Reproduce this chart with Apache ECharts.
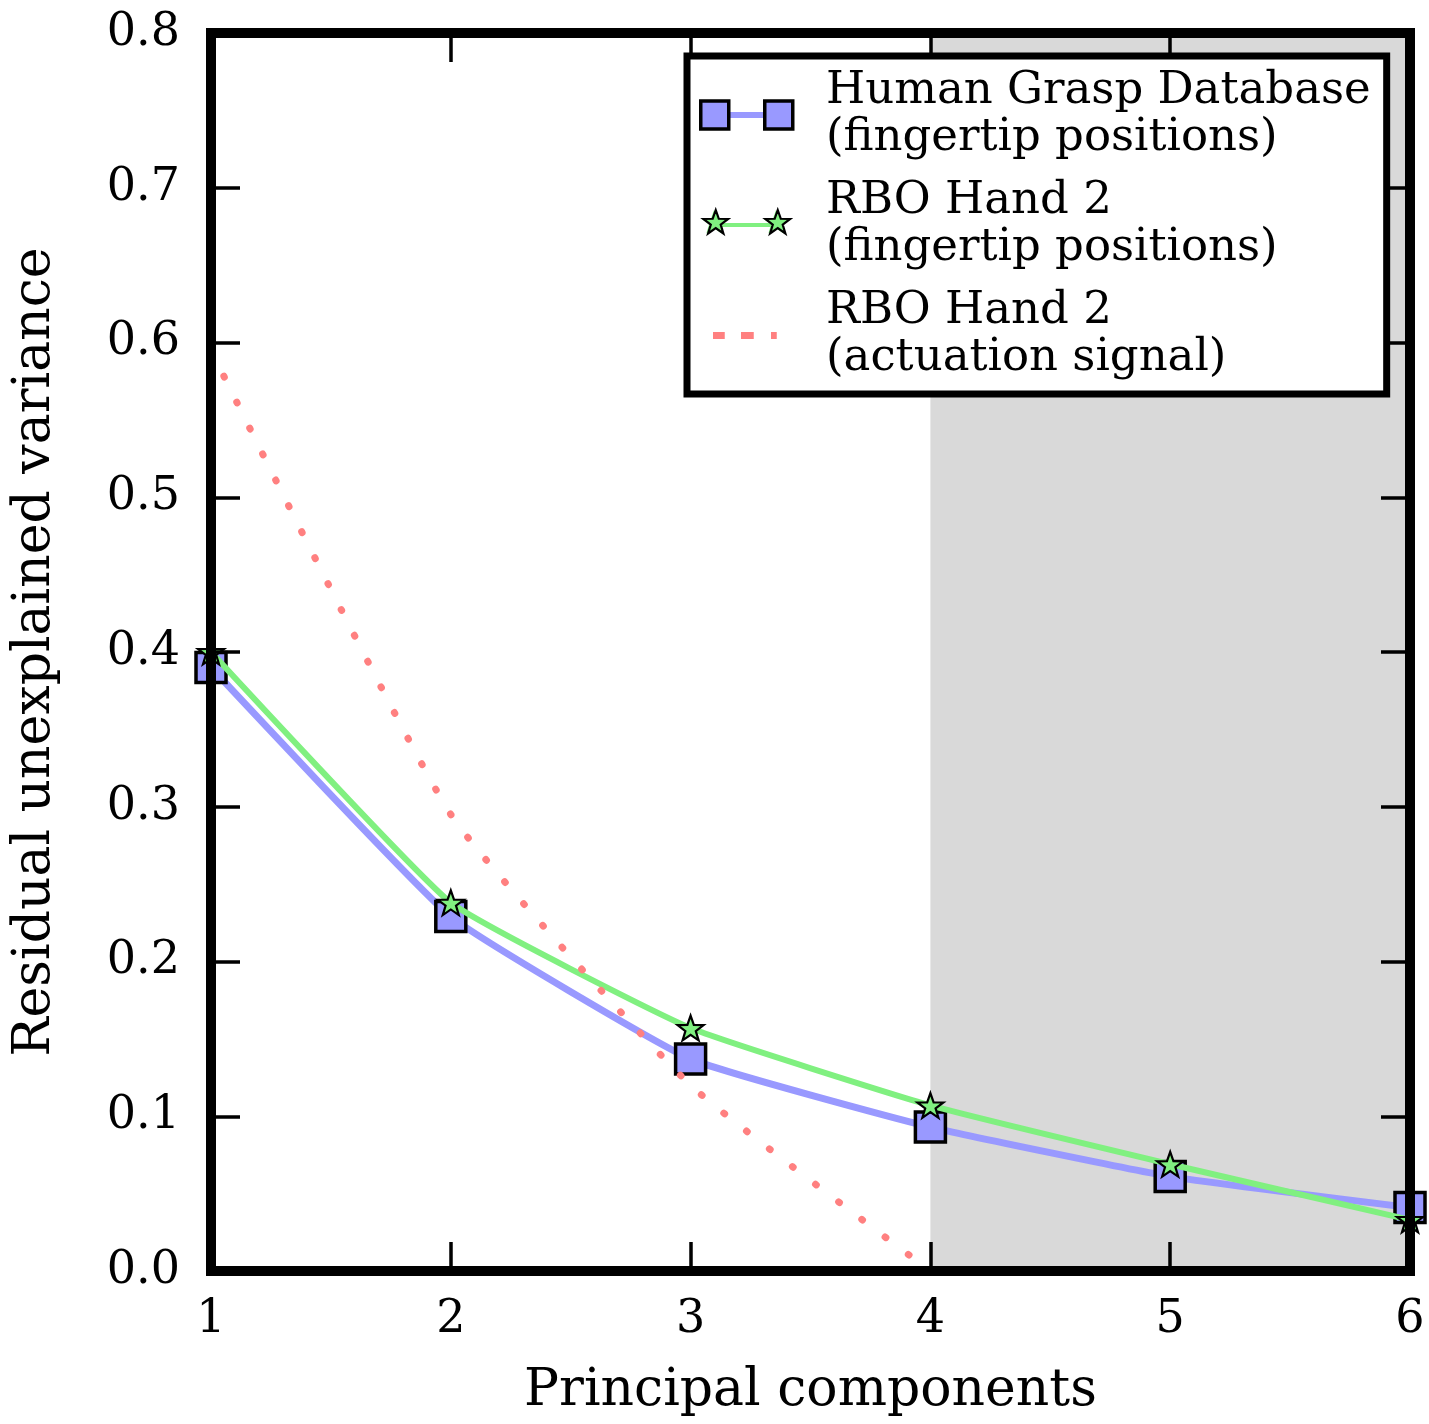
<!DOCTYPE html>
<html>
<head>
<meta charset="utf-8">
<script src="https://cdn.jsdelivr.net/npm/echarts@6/dist/echarts.min.js"></script>
<style>
  html, body { margin: 0; padding: 0; background: #fff; }
  #chart { width: 1429px; height: 1424px; }
</style>
</head>
<body>
<div id="chart"></div>
<script>
// ---- data ----
var components = [1, 2, 3, 4, 5, 6];
var humanGrasp = [0.39, 0.229, 0.137, 0.093, 0.061, 0.041];
var rboFingertip = [0.40, 0.238, 0.157, 0.107, 0.069, 0.033];
var actuationComponents = [1, 2, 3, 4];
var rboActuation = [0.595, 0.295, 0.12, 0.0];
var shadedRange = [4, 6];
var seriesNames = [
  'Human Grasp Database\n(fingertip positions)',
  'RBO Hand 2\n(fingertip positions)',
  'RBO Hand 2\n(actuation signal)'
];
var xAxisTitle = 'Principal components';
var yAxisTitle = 'Residual unexplained variance';

function pairs(xs, ys) { return xs.map(function (x, i) { return [x, ys[i]]; }); }

var FONT = 'DejaVu Serif';
var BLUE = '#9999ff';
var GREEN = '#80f080';
var RED = '#ff8080';

var starPath = 'M13,0L16.06,8.79L25.36,8.98L17.95,14.61L20.64,23.52L13,18.2L5.36,23.52L8.05,14.61L0.64,8.98L9.94,8.79Z';
function shiftStar(dx) {
  return starPath.replace(/([ML])([\d.]+),([\d.]+)/g, function (m, c, x, y) {
    return c + (parseFloat(x) + dx).toFixed(2) + ',' + y;
  });
}
var sqPair = 'M0,1H28V29H0Z M64,1H92V29H64Z';
var blueBar = 'M28,12H64V18H28Z';
var starPair = 'M0,0L0,0 M92,30L92,30 ' + shiftStar(2) + ' ' + shiftStar(64);
var greenBar = 'M20,13H72V17H20Z';
var redDash = 'M0,0L0,0 M92,30L92,30 M14,12h10v7h-10z M42,12h11v7h-11z M72,12h4v7h-4z';

var chart = echarts.init(document.getElementById('chart'), null, { renderer: 'canvas' });

var axisLineStyle = { color: '#000', width: 10, cap: 'square' };
var tickStyle = { color: '#000', width: 3.5 };

function legendBase(extra) {
  var base = {
    orient: 'vertical',
    left: 687,
    top: 56,
    padding: [12, 16, 12, 12],
    itemWidth: 92,
    itemHeight: 30,
    itemGap: 16,
    selectedMode: false,
    textStyle: {
      fontFamily: FONT,
      fontSize: 45,
      lineHeight: 47,
      color: '#000',
      padding: [0, 0, 0, 30]
    }
  };
  for (var k in extra) base[k] = extra[k];
  return base;
}

var option = {
  animation: false,
  backgroundColor: '#fff',
  grid: { left: 211, right: 19, top: 33, bottom: 153, containLabel: false },
  legend: [
    legendBase({
      z: 20,
      backgroundColor: '#fff',
      borderColor: '#000',
      borderWidth: 7,
      data: [
        { name: seriesNames[0], icon: 'path://' + sqPair + ' ' + blueBar, itemStyle: { color: BLUE, borderWidth: 0 } },
        { name: seriesNames[1], icon: 'path://' + starPair + ' ' + greenBar, itemStyle: { color: GREEN, borderWidth: 0 } },
        { name: seriesNames[2], icon: 'path://' + redDash, itemStyle: { color: RED, borderWidth: 0 } }
      ]
    }),
    legendBase({
      z: 21,
      backgroundColor: 'transparent',
      borderWidth: 0,
      textStyle: {
        fontFamily: FONT, fontSize: 45, lineHeight: 47,
        color: 'rgba(0,0,0,0)', padding: [0, 0, 0, 30]
      },
      data: [
        { name: seriesNames[0], icon: 'path://' + sqPair, itemStyle: { color: BLUE, borderColor: '#000', borderWidth: 3.5 } },
        { name: seriesNames[1], icon: 'path://' + starPair, itemStyle: { color: GREEN, borderColor: '#000', borderWidth: 2.2 } },
        { name: seriesNames[2], icon: 'path://' + redDash, itemStyle: { color: RED, borderWidth: 0 } }
      ]
    })
  ],
  xAxis: [
    {
      type: 'value', min: 1, max: 6, interval: 1, position: 'bottom', z: 10,
      name: xAxisTitle, nameLocation: 'middle', nameGap: 94,
      nameTextStyle: { fontFamily: FONT, fontSize: 52, color: '#000' },
      axisLine: { show: true, onZero: false, lineStyle: axisLineStyle },
      axisTick: { show: true, inside: true, length: 29, lineStyle: tickStyle },
      axisLabel: { show: true, margin: 26, fontFamily: FONT, fontSize: 46, color: '#000' },
      splitLine: { show: false }
    },
    {
      type: 'value', min: 1, max: 6, interval: 1, position: 'top', z: 10,
      axisLine: { show: true, onZero: false, lineStyle: axisLineStyle },
      axisTick: { show: true, inside: true, length: 29, lineStyle: tickStyle },
      axisLabel: { show: false },
      splitLine: { show: false }
    }
  ],
  yAxis: [
    {
      type: 'value', min: 0, max: 0.8, interval: 0.1, position: 'left', z: 10,
      name: yAxisTitle, nameLocation: 'middle', nameGap: 150,
      nameTextStyle: { fontFamily: FONT, fontSize: 52, color: '#000' },
      axisLine: { show: true, onZero: false, lineStyle: axisLineStyle },
      axisTick: { show: true, inside: true, length: 29, lineStyle: tickStyle },
      axisLabel: {
        show: true, margin: 31, fontFamily: FONT, fontSize: 46, color: '#000',
        formatter: function (v) { return v.toFixed(1); }
      },
      splitLine: { show: false }
    },
    {
      type: 'value', min: 0, max: 0.8, interval: 0.1, position: 'right', z: 10,
      axisLine: { show: true, onZero: false, lineStyle: axisLineStyle },
      axisTick: { show: true, inside: true, length: 29, lineStyle: tickStyle },
      axisLabel: { show: false },
      splitLine: { show: false }
    }
  ],
  series: [
    {
      type: 'line',
      name: '__shade',
      data: [],
      z: 1,
      silent: true,
      markArea: {
        silent: true,
        itemStyle: { color: '#d9d9d9', opacity: 1 },
        data: [[{ xAxis: shadedRange[0] }, { xAxis: shadedRange[1] }]]
      }
    },
    {
      type: 'line',
      name: seriesNames[0],
      data: pairs(components, humanGrasp),
      smooth: 0.12,
      z: 3,
      symbol: 'rect',
      symbolSize: 30,
      lineStyle: { color: BLUE, width: 7 },
      itemStyle: { color: BLUE, borderColor: '#000', borderWidth: 3.5 }
    },
    {
      type: 'line',
      name: seriesNames[1],
      data: pairs(components, rboFingertip),
      smooth: 0.12,
      z: 4,
      symbol: 'path://' + starPath,
      symbolSize: 26,
      symbolKeepAspect: true,
      lineStyle: { color: GREEN, width: 6 },
      itemStyle: { color: GREEN, borderColor: '#000', borderWidth: 2.2 }
    },
    {
      type: 'line',
      name: seriesNames[2],
      data: pairs(actuationComponents, rboActuation),
      smooth: 0.15,
      z: 5,
      symbol: 'none',
      lineStyle: { color: RED, width: 7, type: [1, 28], cap: 'round' }
    }
  ]
};

chart.setOption(option);
</script>
</body>
</html>
